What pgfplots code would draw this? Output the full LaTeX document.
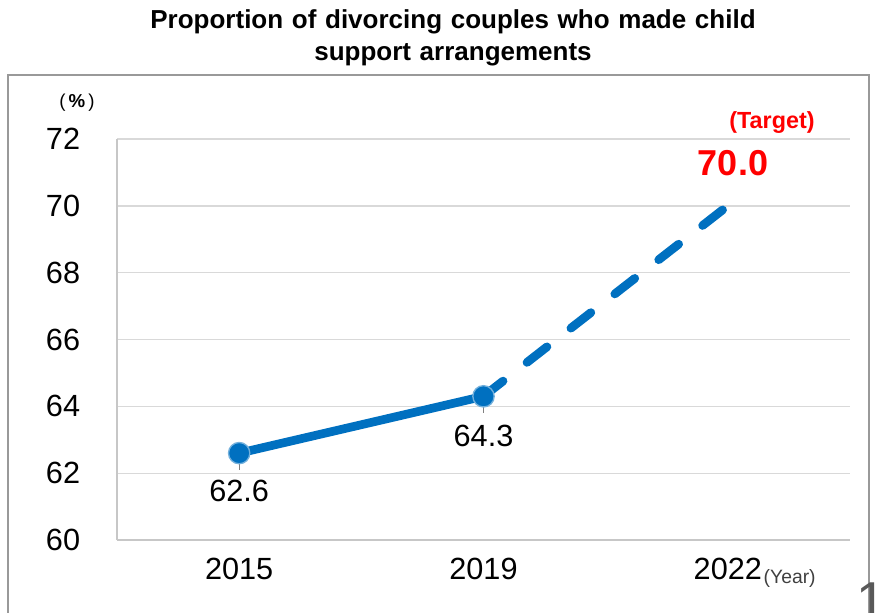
\documentclass[border=0pt]{standalone}
\usepackage{fontspec}
\setmainfont{Liberation Sans}
\usepackage{pgfplots}
\pgfplotsset{compat=1.18}
\definecolor{lineblue}{HTML}{0070C0}
\definecolor{gridgray}{HTML}{D9D9D9}
\begin{document}
\begin{tikzpicture}
\begin{scope}[x=0.75pt,y=-0.75pt]
\useasboundingbox (0,0) rectangle (875,613);
\draw[gray!80, line width=1.2pt] (8,640) -- (8,75) -- (869,75) -- (869,640);
\node[font=\bfseries\fontsize{19.5}{24.5}\selectfont, align=center, text width=700pt] at (453,38) {Proportion of divorcing couples who made child\\support arrangements};
\node[font=\fontsize{14}{16}\selectfont] at (77,103) {(\,\textbf{\%}\,)};
\node[font=\bfseries\fontsize{17.5}{20}\selectfont, text=red] at (772,123) {(Target)};
\node[font=\bfseries\fontsize{27}{30}\selectfont, text=red] at (733,163) {70.0};
\node[font=\fontsize{14.5}{16}\selectfont, text=black!75, anchor=west] at (759,578) {(Year)};
\node[font=\fontsize{40}{44}\selectfont, text=black!65, anchor=north west] at (852,578) {1};
\end{scope}
\begin{axis}[
  at={(87.75pt,-405pt)}, anchor=south west,
  scale only axis, width=549.75pt, height=300.75pt,
  xmin=-0.5, xmax=2.5, ymin=60, ymax=72,
  xtick={0,1,2}, xticklabels={2015,2019,2022},
  ytick={60,62,...,72},
  ymajorgrids, major grid style={gridgray, line width=1pt},
  axis x line=bottom, axis y line=left,
  axis line style={gridgray!80!gray, line width=1pt, -},
  tick style={draw=none},
  tick label style={font=\fontsize{23}{26}\selectfont},
  /pgf/number format/assume math mode=true,
  xticklabel style={yshift=-8pt},
  yticklabel style={xshift=-22pt},
  clip=false,
]
\addplot[lineblue, line width=6.5pt, dash pattern=on 19pt off 22.75pt, line cap=round, dash phase=-5pt] coordinates {(2,70.0) (1,64.3)};
\addplot[lineblue, line width=6.5pt] coordinates {(0,62.6) (1,64.3)};
\addplot[only marks, mark=*, mark size=8pt, mark options={fill=lineblue, draw=lineblue!55!white, line width=1pt}] coordinates {(0,62.6) (1,64.3)};
\draw[gray, line width=0.8pt] (axis cs:0,62.6) -- (axis cs:0,62.1);
\draw[gray, line width=0.8pt] (axis cs:1,64.3) -- (axis cs:1,63.8);
\node[font=\fontsize{23}{26}\selectfont] at (axis cs:0,62.6) [yshift=-28pt] {62.6};
\node[font=\fontsize{23}{26}\selectfont] at (axis cs:1,64.3) [yshift=-30pt] {64.3};
\end{axis}
\end{tikzpicture}
\end{document}
